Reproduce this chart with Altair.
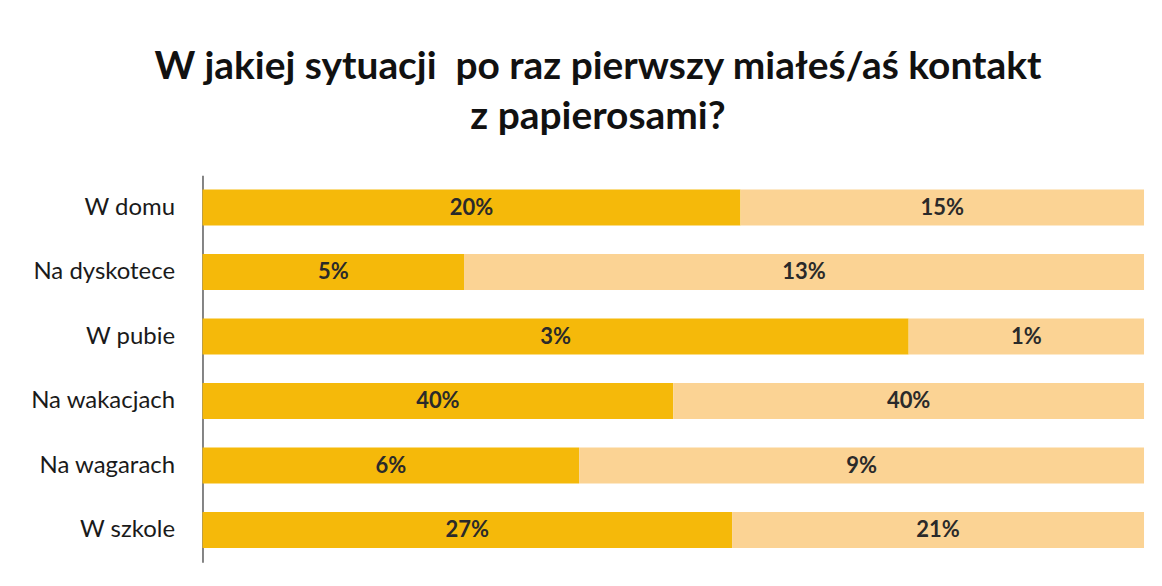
import altair as alt
import pandas as pd

categories = ["W domu", "Na dyskotece", "W pubie", "Na wakacjach", "Na wagarach", "W szkole"]
series_1 = [20, 5, 3, 40, 6, 27]
series_2 = [15, 13, 1, 40, 9, 21]
series_names = ["Seria 1", "Seria 2"]
colors = ["#F5B90A", "#FBD394"]

rows = []
for i, c in enumerate(categories):
    rows.append({"cat": c, "series": series_names[0], "order": 0, "value": series_1[i]})
    rows.append({"cat": c, "series": series_names[1], "order": 1, "value": series_2[i]})
df = pd.DataFrame(rows)

FONT = "Lato"

base = alt.Chart(df).transform_stack(
    stack="value", groupby=["cat"], as_=["x0", "x1"], offset="normalize",
    sort=[alt.SortField("order", order="ascending")]
).transform_calculate(
    mid="(datum.x0 + datum.x1) / 2",
    label="datum.value + '%'"
)

y_enc = alt.Y("cat:N", sort=categories, title=None,
              scale=alt.Scale(paddingInner=0.44, paddingOuter=0.22),
              axis=alt.Axis(labelFont=FONT, labelFontSize=24, labelColor="#1a1a1a",
                            labelPadding=28, ticks=False, domainColor="#333333",
                            domainWidth=1.2, minExtent=195, maxExtent=195))

bars = base.mark_bar().encode(
    y=y_enc,
    x=alt.X("x0:Q", scale=alt.Scale(domain=[0, 1], nice=False), axis=None),
    x2="x1:Q",
    color=alt.Color("series:N", scale=alt.Scale(domain=series_names, range=colors), legend=None),
)

texts = base.mark_text(font=FONT, fontSize=22, fontWeight="bold", color="#2a2a2a", baseline="middle").encode(
    y=alt.Y("cat:N", sort=categories),
    x=alt.X("mid:Q"),
    text="label:N",
)

chart = alt.layer(bars, texts).properties(
    width=944, height=388,
    title=alt.TitleParams(
        text=["W jakiej sytuacji\u00a0 po raz pierwszy miałeś/aś kontakt", "z papierosami?"],
        font=FONT, fontSize=39, fontWeight="bold", color="#111111",
        anchor="middle", frame="bounds", lineHeight=51, offset=38, dx=22
    ),
    padding={"left": 0, "top": 39, "right": 10, "bottom": 5},
    background="white",
).configure_view(stroke=None)

chart.save("out.html", embed_options={"renderer": "svg", "actions": False})
